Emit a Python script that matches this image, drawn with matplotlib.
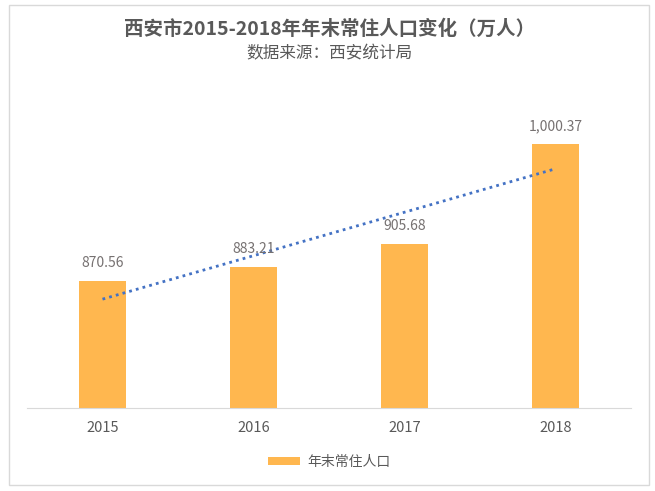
import numpy as np
import matplotlib.pyplot as plt
from matplotlib.patches import Rectangle

plt.rcParams['font.family'] = ['Noto Sans CJK SC', 'DejaVu Sans']

# 数据
years = ['2015', '2016', '2017', '2018']
population = [870.56, 883.21, 905.68, 1000.37]
labels = ['870.56', '883.21', '905.68', '1,000.37']

bar_color = '#FFB74F'
text_gray = '#595959'

fig = plt.figure(figsize=(6.55, 4.91), dpi=100)
# 外边框
fig.patches.append(Rectangle((9 / 655, 6 / 491), 640 / 655, 480 / 491,
                             transform=fig.transFigure, fill=False,
                             edgecolor='#D9D9D9', linewidth=1))

ax = fig.add_axes([27 / 655, 83 / 491, 604 / 655, 316.5 / 491])
x = np.arange(len(years))
bars = ax.bar(x, population, width=0.31, color=bar_color, label='年末常住人口', zorder=2)

# 线性趋势线
k, b = np.polyfit(x, population, 1)
ax.plot(x, k * x + b, linestyle=(0, (1, 1.5)), color='#4472C4', linewidth=2, zorder=3)

for xi, v, lab in zip(x, population, labels):
    ax.annotate(lab, (xi, v), xytext=(0, 13), textcoords='offset points',
                ha='center', va='center', fontsize=10, color='#767171', zorder=4)

ax.set_xlim(-0.5, 3.5)
ax.set_ylim(750, 1050)
ax.set_xticks(x)
ax.set_xticklabels(years, fontsize=10.5, color=text_gray)
ax.set_yticks([])
ax.tick_params(axis='x', length=0, pad=9)
for s in ['top', 'right', 'left']:
    ax.spines[s].set_visible(False)
ax.spines['bottom'].set_color('#D9D9D9')

fig.text(0.503, 0.94, '西安市2015-2018年年末常住人口变化（万人）', ha='center', va='center',
         fontsize=14, fontweight='bold', color=text_gray)
fig.text(0.503, 0.891, '数据来源：西安统计局', ha='center', va='center',
         fontsize=12, color=text_gray)

leg = fig.legend(handles=[bars], labels=['年末常住人口'], loc='center',
                 bbox_to_anchor=(0.503, 0.059), frameon=False, fontsize=10,
                 handlelength=2.3, handleheight=0.5, handletextpad=0.5)
for t in leg.get_texts():
    t.set_color(text_gray)

plt.savefig('out.png', dpi=100)
